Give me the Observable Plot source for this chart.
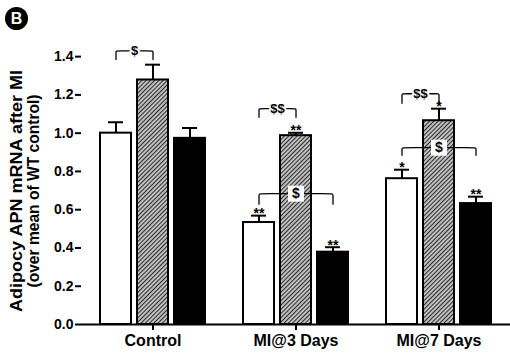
<!DOCTYPE html>
<html><head><meta charset="utf-8">
<script src="https://cdn.jsdelivr.net/npm/d3@7"></script>
<script src="https://cdn.jsdelivr.net/npm/@observablehq/plot@0.6"></script>
<style>
body{margin:0;background:#fff;}
#wrap{position:relative;width:510px;height:353px;font-family:"Liberation Sans",Arial,Helvetica,sans-serif;}
#badge{position:absolute;left:5px;top:7px;width:23px;height:23px;border-radius:50%;background:#000;color:#fff;font-weight:bold;font-size:16px;line-height:23px;text-align:center;}
</style>
</head><body><div id="wrap"><div id="badge">B</div></div>
<script>
const groups = ["Control", "MI@3 Days", "MI@7 Days"];
const series = ["open", "hatched", "solid"];
const openMean = [1.00, 0.533, 0.762];
const openErr = [0.057, 0.036, 0.047];
const hatchedMean = [1.278, 0.987, 1.065];
const hatchedErr = [0.08, 0.015, 0.063];
const solidMean = [0.973, 0.378, 0.632];
const solidErr = [0.054, 0.026, 0.036];
const openStars = ["", "**", "*"];
const hatchedStars = ["", "**", "*"];
const solidStars = ["", "**", "**"];
const yTicks = [0, 0.2, 0.4, 0.6, 0.8, 1.0, 1.2, 1.4];
const yLabelLines = ["Adipocy APN mRNA after MI", "(over mean of WT control)"];
// brackets: group, from-series, to-series, level, end drop, label, boxed label
const bracketGroup = ["Control", "MI@3 Days", "MI@3 Days", "MI@7 Days", "MI@7 Days"];
const bracketFrom = ["open", "open", "open", "open", "open"];
const bracketTo = ["hatched", "hatched", "solid", "hatched", "solid"];
const bracketLevel = [1.43, 1.128, 0.684, 1.206, 0.924];
const bracketDrop = [0.045, 0.045, 0.055, 0.05, 0.04];
const bracketLabel = ["$", "$$", "$", "$$", "$"];
const bracketBoxed = [false, false, true, false, true];

const meansBy = {open: openMean, hatched: hatchedMean, solid: solidMean};
const errsBy = {open: openErr, hatched: hatchedErr, solid: solidErr};
const starsBy = {open: openStars, hatched: hatchedStars, solid: solidStars};
const data = groups.flatMap((g, gi) => series.map(s => ({
  group: g, series: s, mean: meansBy[s][gi], err: errsBy[s][gi], stars: starsBy[s][gi]
})));
data.forEach(d => d.top = d.mean + d.err);

const brackets = bracketGroup.map((g, i) => ({
  id: i, group: g, from: bracketFrom[i], to: bracketTo[i], y: bracketLevel[i],
  drop: bracketDrop[i], label: bracketLabel[i], boxed: bracketBoxed[i]
}));
const bracketPts = brackets.flatMap(b => [
  {id: b.id, group: b.group, s: b.from, y: b.y - b.drop},
  {id: b.id, group: b.group, s: b.from, y: b.y},
  {id: b.id, group: b.group, s: b.from, y: b.y},
  {id: b.id, group: b.group, s: b.to, y: b.y},
  {id: b.id, group: b.group, s: b.to, y: b.y},
  {id: b.id, group: b.group, s: b.to, y: b.y - b.drop}
]);
const plainLabels = brackets.filter(b => !b.boxed);
const boxedLabels = brackets.filter(b => b.boxed).map(b => ({...b, at: series[1]}));
const halfStep = 18.5;

const font = '"Liberation Sans", Arial, Helvetica, sans-serif';
const chart = Plot.plot({
  width: 510, height: 353,
  marginLeft: 80, marginRight: 0, marginTop: 37, marginBottom: 29,
  style: {fontFamily: font, fontWeight: "bold", background: "#fff", color: "#000"},
  fx: {domain: groups, padding: 0, label: null},
  x: {domain: series, paddingInner: 0.16, paddingOuter: 0.51, axis: null},
  y: {domain: [0, 1.5]},
  color: {domain: series, range: ["#ffffff", "url(#hatch)", "#000000"]},
  marks: [
    Plot.ruleY([0], {stroke: "#000", strokeWidth: 2}),
    Plot.ruleX(data, {fx: "group", x: "series", y1: "mean", y2: "top", stroke: "#000", strokeWidth: 2}),
    Plot.tickY(data, {fx: "group", x: "series", y: "top", insetLeft: 8, insetRight: 8, stroke: "#000", strokeWidth: 2}),
    Plot.barY(data, {fx: "group", x: "series", y: "mean", fill: "series", stroke: "#000", strokeWidth: 2}),
    Plot.line(bracketPts, {fx: "group", x: "s", y: "y", z: "id", curve: "basis", stroke: "#000", strokeWidth: 1.3}),
    Plot.text(plainLabels, {fx: "group", x: "from", y: "y", dx: halfStep, text: "label", fontSize: 13, fontWeight: "bold", fill: "#000", stroke: "#fff", strokeWidth: 4}),
    Plot.dot(boxedLabels, {fx: "group", x: "at", y: "y", symbol: "square", r: 9, fill: "#fff", stroke: null}),
    Plot.text(boxedLabels, {fx: "group", x: "at", y: "y", text: "label", fontSize: 14, fontWeight: "bold", fill: "#000"}),
    Plot.text(data.filter(d => d.stars), {fx: "group", x: "series", y: "top", text: "stars", dy: -2, fontSize: 14, fontWeight: "bold", fill: "#000"}),
    Plot.axisY({ticks: yTicks, tickFormat: d3.format(".1f"), tickSize: 6, tickPadding: 2, strokeWidth: 2, line: true, label: null, fontSize: 14, fontWeight: "bold"}),
    Plot.axisFx({anchor: "bottom", tickSize: 6, tickPadding: 4, strokeWidth: 2, label: null, fontSize: 16, fontWeight: "bold"})
  ]
});

const svg = d3.select(chart);
const defs = svg.insert("defs", ":first-child");
const pat = defs.append("pattern").attr("id", "hatch").attr("patternUnits", "userSpaceOnUse")
  .attr("width", 3).attr("height", 3).attr("patternTransform", "rotate(45)");
pat.append("rect").attr("width", 3).attr("height", 3).attr("fill", "#c4c4c4");
pat.append("line").attr("x1", 0.5).attr("y1", 0).attr("x2", 0.5).attr("y2", 3).attr("stroke", "#2a2a2a").attr("stroke-width", 1.1);

const labelLengths = [242, 193];
yLabelLines.forEach((t, i) => svg.append("text")
  .attr("transform", "translate(0,191) rotate(-90)")
  .attr("x", 0).attr("y", 22 + i * 16.5)
  .attr("text-anchor", "middle").attr("font-family", font).attr("font-weight", "bold")
  .attr("font-size", 17).attr("fill", "#000")
  .attr("textLength", labelLengths[i]).attr("lengthAdjust", "spacingAndGlyphs")
  .text(t));

document.getElementById("wrap").appendChild(chart);
chart.style.position = "absolute"; chart.style.left = "0"; chart.style.top = "0";
document.getElementById("wrap").appendChild(document.getElementById("badge"));
</script>
</body></html>
